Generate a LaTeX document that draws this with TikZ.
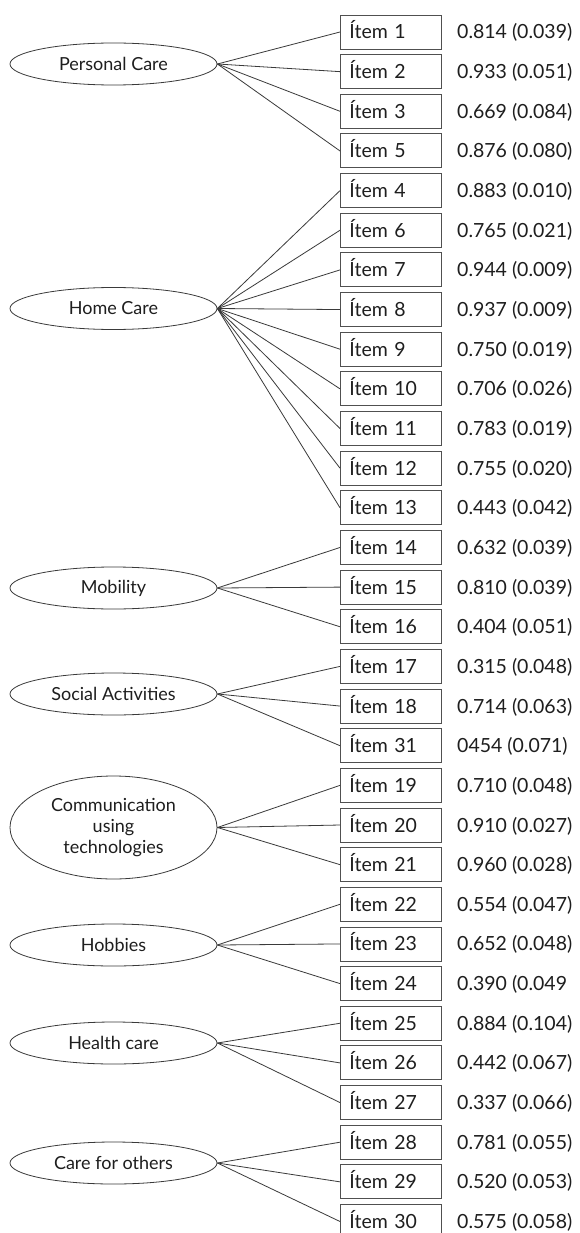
\documentclass[tikz,border=0pt]{standalone}
\usepackage{fontspec}
\setmainfont{Lato}
\usetikzlibrary{shapes.geometric}
\definecolor{ink}{HTML}{1E1E1E}
\definecolor{edge}{HTML}{3A3A3A}
\definecolor{frame}{HTML}{505050}
\tikzset{
  itembox/.style={draw=frame, line width=0.9pt, minimum height=34pt, text width=83pt,
    inner xsep=9pt, inner ysep=0pt, align=left, anchor=west, text=ink,
    text height=14pt, text depth=0pt,
    font=\fontsize{19.5}{22}\selectfont},
  valtext/.style={anchor=west, inner sep=0pt, text=ink, text height=14pt, text depth=0pt,
    font=\fontsize{19.5}{22}\selectfont},
  factor/.style={ellipse, draw=edge, line width=0.8pt, minimum width=207pt, minimum height=42pt,
    inner sep=0pt, text=ink, font=\fontsize{18}{21}\selectfont, align=center},
  link/.style={draw=edge, line width=0.8pt}
}
\begin{document}
\begin{tikzpicture}[x=1pt,y=-1pt]
\useasboundingbox (0,0) rectangle (579,1233);
\fill[white] (0,0) rectangle (579,1233);
\foreach \k/\lab/\val in {
 0/Ítem 1/{0.814 (0.039)},
 1/Ítem 2/{0.933 (0.051)},
 2/Ítem 3/{0.669 (0.084)},
 3/Ítem 5/{0.876 (0.080)},
 4/Ítem 4/{0.883 (0.010)},
 5/Ítem 6/{0.765 (0.021)},
 6/Ítem 7/{0.944 (0.009)},
 7/Ítem 8/{0.937 (0.009)},
 8/Ítem 9/{0.750 (0.019)},
 9/Ítem 10/{0.706 (0.026)},
 10/Ítem 11/{0.783 (0.019)},
 11/Ítem 12/{0.755 (0.020)},
 12/Ítem 13/{0.443 (0.042)},
 13/Ítem 14/{0.632 (0.039)},
 14/Ítem 15/{0.810 (0.039)},
 15/Ítem 16/{0.404 (0.051)},
 16/Ítem 17/{0.315 (0.048)},
 17/Ítem 18/{0.714 (0.063)},
 18/Ítem 31/{0454 (0.071)},
 19/Ítem 19/{0.710 (0.048)},
 20/Ítem 20/{0.910 (0.027)},
 21/Ítem 21/{0.960 (0.028)},
 22/Ítem 22/{0.554 (0.047)},
 23/Ítem 23/{0.652 (0.048)},
 24/Ítem 24/{0.390 (0.049},
 25/Ítem 25/{0.884 (0.104)},
 26/Ítem 26/{0.442 (0.067)},
 27/Ítem 27/{0.337 (0.066)},
 28/Ítem 28/{0.781 (0.055)},
 29/Ítem 29/{0.520 (0.053)},
 30/Ítem 30/{0.575 (0.058)}}{
  \pgfmathsetmacro{\cy}{32+39.65*\k}
  \node[itembox] (r\k) at (340,\cy) {\lab};
  \node[valtext] (v\k) at (457,\cy) {\val};
}
\node[factor] (pc) at (113.5,64) {Personal Care};
\node[factor] (hc) at (113.5,308.5) {Home Care};
\node[factor] (mob) at (113.5,588) {Mobility};
\node[factor] (soc) at (113.5,694) {Social Activities};
\node[factor, minimum height=103pt] (com) at (113.5,827.5) {Communication\\using\\technologies};
\node[factor] (hob) at (113.5,945) {Hobbies};
\node[factor] (hea) at (113.5,1043) {Health care};
\node[factor] (cfo) at (113.5,1163) {Care for others};
\foreach \k in {0,...,3}{\draw[link] (pc.east) -- (r\k.west);}
\foreach \k in {4,...,12}{\draw[link] (hc.east) -- (r\k.west);}
\foreach \k in {13,...,15}{\draw[link] (mob.east) -- (r\k.west);}
\foreach \k in {16,...,18}{\draw[link] (soc.east) -- (r\k.west);}
\foreach \k in {19,...,21}{\draw[link] (com.east) -- (r\k.west);}
\foreach \k in {22,...,24}{\draw[link] (hob.east) -- (r\k.west);}
\foreach \k in {25,...,27}{\draw[link] (hea.east) -- (r\k.west);}
\foreach \k in {28,...,30}{\draw[link] (cfo.east) -- (r\k.west);}
\end{tikzpicture}
\end{document}
